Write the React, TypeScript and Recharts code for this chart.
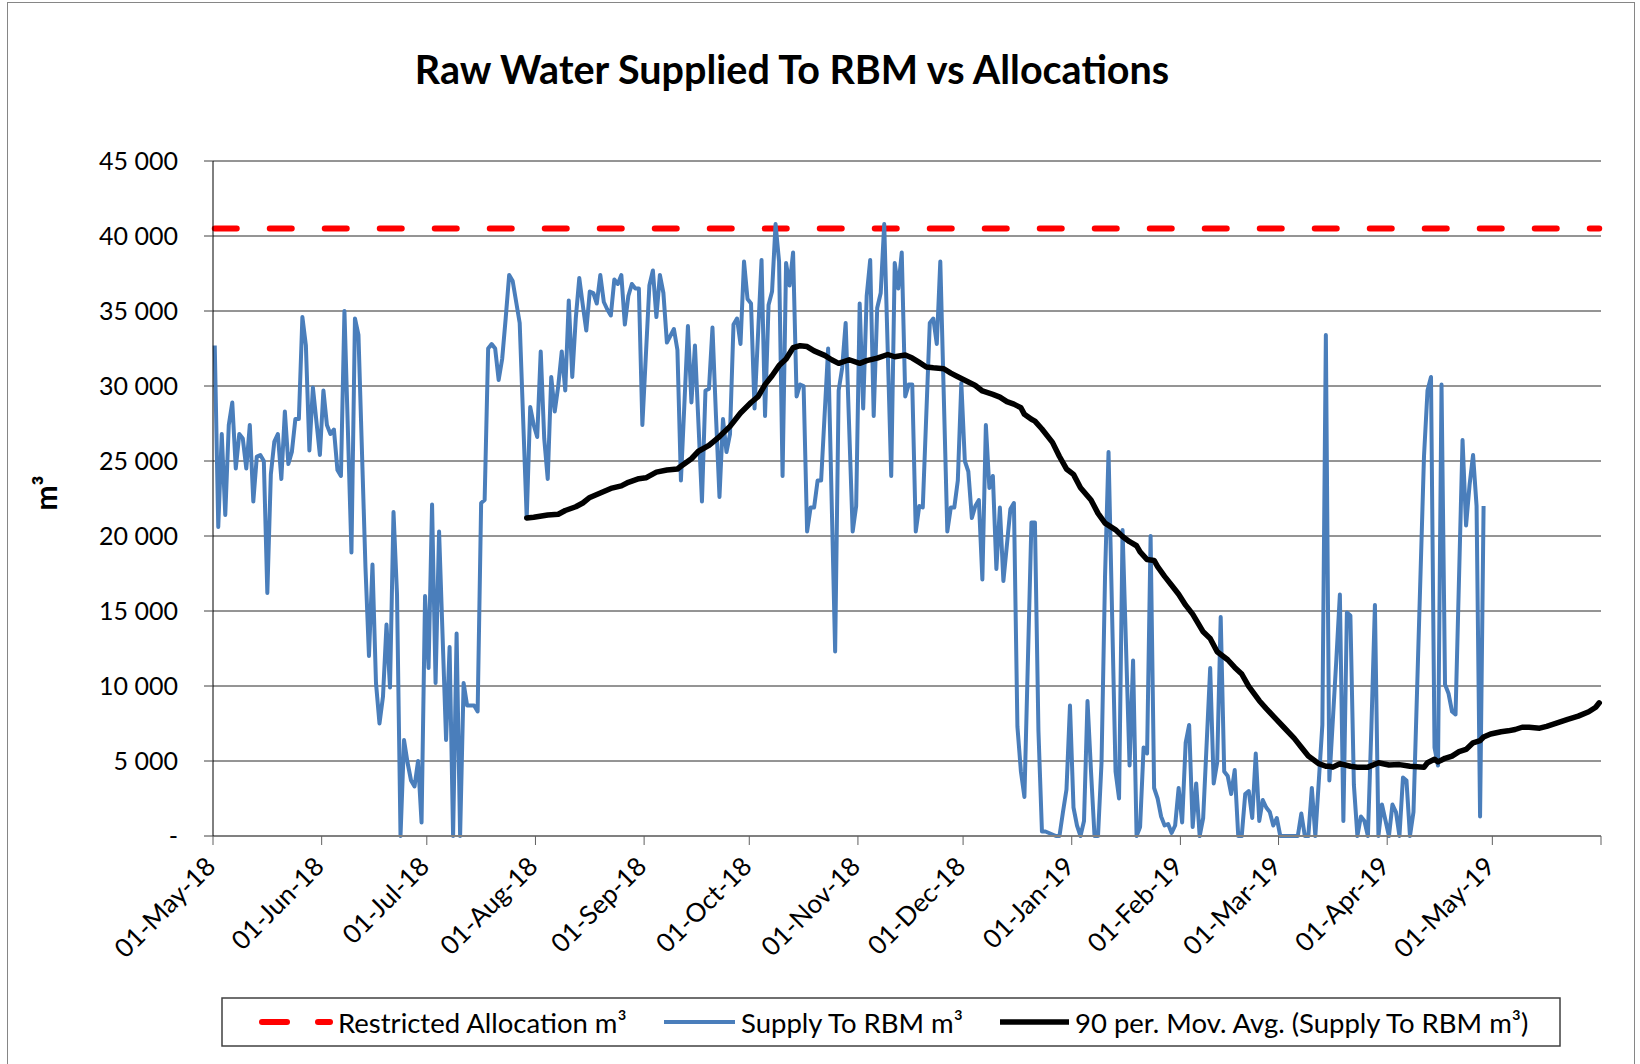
import { CartesianGrid, Line, LineChart, XAxis, YAxis } from 'recharts';

// day offsets from 01-May-18 (daily data, only the visible turning points)
const supplyDays = [
  0, 1, 2, 3, 4, 5, 6, 7, 8, 9, 10, 11, 12, 13, 14, 15, 16, 17, 18, 19, 20, 21, 22, 23, 24, 25, 26, 27, 28, 30,
  31, 32, 33, 34, 35, 36, 37, 39, 40, 41, 43, 44, 45, 46, 47, 48, 49, 50, 51, 52, 53, 54, 55, 56, 57, 58, 59, 60,
  61, 62, 63, 64, 66, 67, 68, 69, 70, 71, 72, 74, 75, 76, 77, 78, 79, 80, 81, 82, 83, 84, 85, 87, 89, 90, 91, 92,
  93, 94, 95, 96, 97, 98, 99, 100, 101, 102, 103, 104, 105, 106, 107, 108, 109, 110, 111, 112, 113, 114, 115, 116,
  117, 118, 119, 120, 121, 122, 124, 125, 126, 127, 128, 129, 131, 132, 133, 135, 136, 137, 139, 140, 141, 142,
  143, 144, 145, 146, 147, 148, 149, 150, 151, 152, 153, 154, 156, 157, 158, 159, 160, 161, 162, 163, 164, 165,
  166, 167, 168, 169, 170, 171, 172, 173, 175, 177, 178, 179, 180, 182, 183, 184, 185, 186, 187, 188, 189, 190,
  191, 193, 194, 195, 196, 197, 198, 199, 200, 201, 202, 204, 205, 206, 207, 209, 210, 211, 212, 213, 214, 215,
  216, 217, 218, 219, 220, 221, 222, 223, 224, 225, 227, 228, 229, 230, 231, 233, 234, 235, 236, 237, 238, 240,
  241, 242, 243, 244, 245, 246, 247, 248, 249, 250, 251, 252, 253, 254, 255, 257, 258, 259, 261, 262, 263, 264,
  265, 266, 267, 268, 269, 270, 271, 272, 273, 274, 275, 276, 277, 278, 279, 280, 281, 282, 284, 285, 286, 287,
  288, 289, 290, 291, 292, 293, 294, 295, 296, 297, 298, 299, 300, 301, 302, 303, 304, 309, 310, 311, 312, 313,
  314, 316, 317, 318, 320, 321, 322, 323, 324, 325, 326, 327, 328, 329, 330, 331, 332, 333, 335, 336, 337, 338,
  339, 340, 341, 342, 345, 346, 347, 348, 349, 350, 351, 352, 353, 354, 356, 357, 358, 359, 360, 361, 362,
];
const supplyM3 = [
  32700, 20600, 26800, 21400, 27400, 28900, 24500, 26800, 26500, 24500, 27400, 22300, 25300, 25400, 25000, 16200,
  24100, 26300, 26800, 23800, 28300, 24800, 25600, 27800, 27800, 34600, 32700, 25700, 29900, 25400,
  29700, 27400, 26800, 27100, 24400, 24000, 35000, 18900, 34500, 33400, 17900, 12000, 18100, 10200, 7500, 9300,
  14100, 9900, 21600, 16100, 0, 6400, 4900, 3700, 3300, 5000, 900, 16000,
  11200, 22100, 10200, 20300, 6400, 12600, 0, 13500, 0, 10200, 8700, 8700, 8300, 22200, 22400, 32500, 32800, 32500,
  30400, 31800, 34500, 37400, 37000, 34200, 21200, 28600, 27400, 26600,
  32300, 26500, 23800, 30600, 28300, 30000, 32300, 29700, 35700, 30600, 34500, 37200, 35400, 33700, 36300, 36200,
  35500, 37400, 35600, 35100, 34700, 37100, 36800, 37400,
  34100, 36000, 36800, 36500, 36500, 27400, 36700, 37700, 34600, 37400, 36200, 32900, 33800, 32400, 23700, 34000,
  28900, 32700, 22300, 29700, 29800, 33900,
  28000, 22600, 27800, 25600, 26800, 34100, 34500, 32800, 38300, 35800, 35500, 28500, 38400, 28000, 35400, 36300,
  40800, 38300, 24000, 38200, 36700, 38900,
  29300, 30100, 30000, 20300, 21900, 21900, 23700, 23700, 32500, 12300, 29700, 31200, 34200, 20300, 22000, 35500,
  28500, 36000, 38400, 28000, 35200, 36200,
  40800, 24000, 38200, 36500, 38900, 29300, 30100, 30100, 20300, 22000, 21900, 34200, 34500, 32800, 38300, 20300,
  21900, 21900, 23700, 30200, 25000, 24300,
  21200, 22000, 22400, 17100, 27400, 23200, 24000, 17800, 21900, 17000, 21800, 22200, 7300, 4300, 2600, 20900,
  20900, 7000, 300, 300, 200, 0,
  0, 1600, 3100, 8700, 1900, 700, 0, 1000, 9000, 4300, 0, 0, 4900, 17300, 25600, 4300, 2500, 20400, 4700, 11700,
  0, 600,
  5900, 5500, 20000, 3200, 2500, 1300, 700, 800, 200, 700, 3200, 900, 6200, 7400, 600, 3500, 0, 1200, 11200, 3500,
  4900, 14600,
  4300, 4000, 2800, 4400, 0, 0, 2800, 3000, 1200, 5500, 1000, 2400, 1900, 1600, 700, 1200, 0, 0, 1500, 0, 0, 3200,
  0, 7400, 33400, 3700, 11800, 16100, 1000, 14900, 14700, 3400, 0, 1300, 1000, 0, 7300, 15400, 0, 2100, 0, 2100,
  1600, 0,
  3900, 3700, 0, 1600, 25300, 29700, 30600, 5900, 4700, 30100, 10100, 9500, 8300, 8100, 26400, 20700, 23400, 25400,
  22000, 1300, 22000,
];

// 90 per. moving average
const maDays = [
  89, 91, 95, 98, 100, 103, 105, 107, 110, 113, 116, 118, 121, 123, 126, 129, 132, 133, 136, 138, 141, 144, 147,
  150, 153, 155, 157, 159, 161, 163, 165, 167, 169, 171, 174, 176, 178, 181, 184, 186, 189, 192, 194, 197, 199,
  201, 203, 205, 208, 210, 212, 214, 217, 219, 222, 224, 226, 228, 230, 231, 233, 234, 236, 239, 241, 243, 245,
  247, 250, 252, 254, 257, 259, 261, 263, 264, 266, 268, 269, 271, 273, 275, 277, 279, 282, 284, 286, 289, 291,
  293, 295, 298, 300, 302, 305, 308, 310, 312, 315, 317, 318, 319, 321, 324, 326, 329, 332, 335, 338, 341, 345,
  346, 348, 349, 351, 353, 355, 357, 359, 361, 362, 364, 367, 369, 371, 373, 375, 378, 380, 383, 386, 389, 392,
  394, 395,
];
const maM3 = [
  21200, 21250, 21400, 21450, 21700, 21950, 22200, 22570, 22870, 23170, 23340, 23580, 23820, 23880, 24260, 24400,
  24470, 24650, 25150, 25650, 26040, 26630, 27310, 28200, 28900, 29290, 30090, 30680, 31360, 31800, 32550, 32690,
  32630, 32340, 32040, 31750, 31510, 31750, 31510, 31690, 31860, 32100, 31950, 32070, 31860, 31570, 31270, 31210,
  31150, 30860, 30620, 30380, 30030, 29670, 29440, 29260, 28960, 28790, 28550, 28110, 27780, 27660, 27130, 26240,
  25300, 24470, 24110, 23220, 22400, 21510, 20860, 20410, 19970, 19620, 19350, 18940, 18430, 18370, 17960, 17310,
  16720, 16120, 15390, 14790, 13610, 13170, 12280, 11750, 11240, 10800, 9970, 9020, 8490, 7990, 7250, 6510, 5920,
  5330, 4820, 4650, 4650, 4590, 4820, 4650, 4590, 4590, 4880, 4730, 4760, 4650, 4590, 4880, 5120, 4940, 5180, 5330,
  5620, 5770, 6210, 6360, 6600, 6800, 6950, 7010, 7100, 7250, 7250, 7190, 7310, 7540, 7780, 7990, 8280, 8580, 8880,
];

const allocationDays = [0, 395];
const allocationM3 = [40500, 40500];

const monthStartDays = [0, 31, 61, 92, 123, 153, 184, 214, 245, 276, 304, 335, 365, 396];
const monthLabels = [
  '01-May-18', '01-Jun-18', '01-Jul-18', '01-Aug-18', '01-Sep-18', '01-Oct-18', '01-Nov-18',
  '01-Dec-18', '01-Jan-19', '01-Feb-19', '01-Mar-19', '01-Apr-19', '01-May-19', '',
];
const yTicks = [0, 5000, 10000, 15000, 20000, 25000, 30000, 35000, 40000, 45000];

type Row = { d: number; supply?: number; ma?: number; alloc?: number };
const rowMap = new Map<number, Row>();
const put = (d: number, key: 'supply' | 'ma' | 'alloc', v: number) => {
  const r = rowMap.get(d) ?? { d };
  r[key] = v;
  rowMap.set(d, r);
};
supplyDays.forEach((d, i) => put(d, 'supply', supplyM3[i]));
maDays.forEach((d, i) => put(d, 'ma', maM3[i]));
allocationDays.forEach((d, i) => put(d, 'alloc', allocationM3[i]));
const data = Array.from(rowMap.values()).sort((a, b) => a.d - b.d);

const FONT = 'Lato, "Open Sans", sans-serif';

function MonthTick(props: any) {
  const { x, y, index } = props;
  const label = monthLabels[index] ?? '';
  const ax = x - 3;
  const ay = y + 14;
  return (
    <text
      x={ax}
      y={ay}
      transform={`rotate(-45, ${ax}, ${ay})`}
      textAnchor="end"
      dominantBaseline="central"
      fontFamily={FONT}
      fontSize={26}
      fill="#000"
    >
      {label}
    </text>
  );
}

const fmtY = (v: number) => (v === 0 ? '-' : `${Math.floor(v / 1000)} 000`);

export default function App() {
  return (
    <div
      style={{
        position: 'absolute',
        left: 0,
        top: 0,
        width: 1640,
        height: 1064,
        background: '#fff',
        overflow: 'hidden',
        fontFamily: FONT,
      }}
    >
      <div
        style={{
          position: 'absolute',
          left: 7,
          top: 2,
          width: 1626,
          height: 1100,
          border: '1px solid #868686',
        }}
      />
      <div
        style={{
          position: 'absolute',
          left: 0,
          width: 1584,
          top: 44,
          textAlign: 'center',
          fontWeight: 700,
          fontSize: 39.5,
          lineHeight: '50px',
          color: '#000',
        }}
      >
        Raw Water Supplied To RBM vs Allocations
      </div>

      <div style={{ position: 'absolute', left: 0, top: 0 }}>
        <LineChart width={1640} height={1000} data={data} margin={{ top: 161, right: 39, left: 0, bottom: 44 }}>
          <CartesianGrid vertical={false} stroke="#2a2a2a" strokeWidth={1} />
          <XAxis
            dataKey="d"
            type="number"
            domain={[-0.5, 395.5]}
            ticks={monthStartDays.map((d) => d - 0.5)}
            interval={0}
            height={120}
            tickSize={9}
            tick={<MonthTick />}
            axisLine={{ stroke: '#808080', strokeWidth: 2 }}
            tickLine={{ stroke: '#606060' }}
          />
          <YAxis
            type="number"
            domain={[0, 45000]}
            ticks={yTicks}
            interval={0}
            width={213}
            tickSize={9}
            tickMargin={26}
            tickFormatter={fmtY}
            tick={{ fontFamily: FONT, fontSize: 25, fill: '#000' }}
            axisLine={{ stroke: '#000' }}
            tickLine={{ stroke: '#404040' }}
          />
          <Line
            dataKey="alloc"
            stroke="#ff0000"
            strokeWidth={6}
            strokeDasharray="22 33"
            strokeLinecap="round"
            dot={false}
            activeDot={false}
            connectNulls
            isAnimationActive={false}
          />
          <Line
            dataKey="supply"
            stroke="#4a7ebb"
            strokeWidth={4}
            strokeLinejoin="round"
            dot={false}
            activeDot={false}
            connectNulls
            isAnimationActive={false}
          />
          <Line
            dataKey="ma"
            stroke="#000"
            strokeWidth={5.5}
            strokeLinejoin="round"
            strokeLinecap="round"
            dot={false}
            activeDot={false}
            connectNulls
            isAnimationActive={false}
          />
        </LineChart>
      </div>

      <svg
        width={1640}
        height={1064}
        style={{ position: 'absolute', left: 0, top: 0, pointerEvents: 'none' }}
      >
        <text
          x={45}
          y={493}
          transform="rotate(-90, 45, 493)"
          textAnchor="middle"
          dominantBaseline="central"
          fontFamily={FONT}
          fontWeight={700}
          fontSize={30}
          fill="#000"
        >
          m³
        </text>
        <rect x={222} y={998} width={1338} height={48} fill="none" stroke="#404040" strokeWidth={1.5} />
        <line x1={262} y1={1022} x2={287} y2={1022} stroke="#ff0000" strokeWidth={6} strokeLinecap="round" />
        <line x1={318} y1={1022} x2={330} y2={1022} stroke="#ff0000" strokeWidth={6} strokeLinecap="round" />
        <text x={338} y={1022} dominantBaseline="central" fontFamily={FONT} fontSize={27.5} fill="#000">
          Restricted Allocation m³
        </text>
        <line x1={664} y1={1022} x2={735} y2={1022} stroke="#4a7ebb" strokeWidth={4} />
        <text x={741} y={1022} dominantBaseline="central" fontFamily={FONT} fontSize={27.5} fill="#000">
          Supply To RBM m³
        </text>
        <line x1={1000} y1={1022} x2={1069} y2={1022} stroke="#000" strokeWidth={5.5} />
        <text x={1075} y={1022} dominantBaseline="central" fontFamily={FONT} fontSize={27.5} fill="#000">
          90 per. Mov. Avg. (Supply To RBM m³)
        </text>
      </svg>
    </div>
  );
}
